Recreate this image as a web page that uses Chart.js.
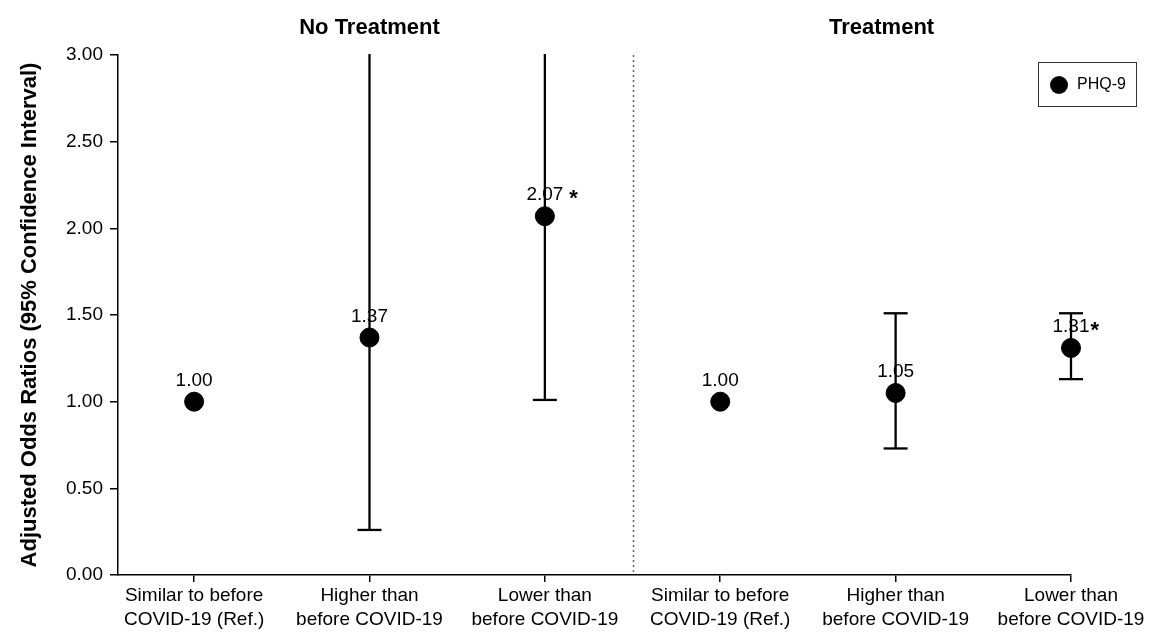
<!DOCTYPE html>
<html lang="en">
<head>
    <meta charset="UTF-8">
    <title>Adjusted Odds Ratios - PHQ-9</title>
    <style>
        html, body { margin: 0; padding: 0; background: #fff; }
        #wrap { width: 1150px; height: 635px; position: relative; }
    </style>
</head>
<body>
    <div id="wrap">
        <canvas id="chart" width="1150" height="635"></canvas>
    </div>

    <script src="https://cdn.jsdelivr.net/npm/chart.js@4/dist/chart.umd.min.js"></script>
    <script>
        // Datos
        const categoryPos = [1, 2, 3, 4, 5, 6];
        const categoryLabels = [
            ['Similar to before', 'COVID-19 (Ref.)'],
            ['Higher than', 'before COVID-19'],
            ['Lower than', 'before COVID-19'],
            ['Similar to before', 'COVID-19 (Ref.)'],
            ['Higher than', 'before COVID-19'],
            ['Lower than', 'before COVID-19']
        ];
        const oddsRatios = [1.00, 1.37, 2.07, 1.00, 1.05, 1.31];
        const ciLow = [null, 0.26, 1.01, null, 0.73, 1.13];
        const ciHigh = [null, 3.30, 3.30, null, 1.51, 1.51];
        const significant = [false, false, true, false, false, true];
        const groupTitles = ['No Treatment', 'Treatment'];
        const groupTitlePos = [2, 4.92];
        const dividerPos = 3.5;
        const yTicks = [0, 0.5, 1, 1.5, 2, 2.5, 3];
        const seriesName = 'PHQ-9';

        const FONT = '"Liberation Sans", Arial, sans-serif';

        // Barras de error, separador, titulos, etiquetas y leyenda
        const extras = {
            id: 'extras',
            beforeDatasetsDraw(chart) {
                const { ctx, chartArea: a, scales: { x, y } } = chart;
                ctx.save();
                // linea punteada
                ctx.strokeStyle = '#666';
                ctx.lineWidth = 1.5;
                ctx.setLineDash([2, 3]);
                const dx = Math.round(x.getPixelForValue(dividerPos)) + 0.5;
                ctx.beginPath();
                ctx.moveTo(dx, a.top);
                ctx.lineTo(dx, a.bottom);
                ctx.stroke();
                ctx.setLineDash([]);

                // intervalos (recortados arriba y abajo solamente)
                ctx.beginPath();
                ctx.rect(a.left, a.top - 1, a.right - a.left + 30, a.bottom - a.top + 2);
                ctx.clip();
                ctx.strokeStyle = '#000';
                ctx.lineWidth = 2.3;
                categoryPos.forEach((c, i) => {
                    if (ciLow[i] == null) return;
                    const px = x.getPixelForValue(c);
                    const lo = y.getPixelForValue(ciLow[i]);
                    const hi = y.getPixelForValue(ciHigh[i]);
                    ctx.beginPath();
                    ctx.moveTo(px, lo);
                    ctx.lineTo(px, hi);
                    ctx.stroke();
                    [ciLow[i], ciHigh[i]].forEach(v => {
                        if (v > y.max) return;
                        const py = y.getPixelForValue(v);
                        ctx.beginPath();
                        ctx.moveTo(px - 12, py);
                        ctx.lineTo(px + 12, py);
                        ctx.stroke();
                    });
                });
                ctx.restore();
            },
            afterDraw(chart) {
                const { ctx, scales: { x, y } } = chart;
                ctx.save();
                ctx.fillStyle = '#000';
                ctx.textBaseline = 'middle';

                // etiquetas de valor
                ctx.font = '19px ' + FONT;
                ctx.textAlign = 'center';
                categoryPos.forEach((c, i) => {
                    const px = x.getPixelForValue(c);
                    const py = y.getPixelForValue(oddsRatios[i]) - 21;
                    const txt = oddsRatios[i].toFixed(2);
                    ctx.fillText(txt, px, py);
                    if (significant[i]) {
                        const w = ctx.measureText(txt).width;
                        ctx.save();
                        ctx.font = 'bold 22px ' + FONT;
                        ctx.textAlign = 'left';
                        ctx.fillText('*', px + w / 2 + (i === 2 ? 6 : 1), py + 4);
                        ctx.restore();
                    }
                });

                // titulos de grupo
                ctx.font = 'bold 22px ' + FONT;
                groupTitles.forEach((t, i) => {
                    ctx.fillText(t, x.getPixelForValue(groupTitlePos[i]), 28);
                });

                // leyenda
                ctx.fillStyle = '#fff';
                ctx.strokeStyle = '#333';
                ctx.lineWidth = 1;
                ctx.fillRect(1038.5, 62.5, 98, 44);
                ctx.strokeRect(1038.5, 62.5, 98, 44);
                ctx.fillStyle = '#000';
                ctx.beginPath();
                ctx.arc(1059, 85, 9, 0, Math.PI * 2);
                ctx.fill();
                ctx.font = '16px ' + FONT;
                ctx.textAlign = 'left';
                ctx.fillText(seriesName, 1077, 85);
                ctx.restore();
            }
        };

        new Chart(document.getElementById('chart'), {
            type: 'scatter',
            data: {
                datasets: [{
                    label: seriesName,
                    data: categoryPos.map((c, i) => ({ x: c, y: oddsRatios[i] })),
                    backgroundColor: '#000',
                    borderColor: '#000',
                    pointRadius: 9.5,
                    pointHoverRadius: 9.5,
                    clip: false
                }]
            },
            options: {
                responsive: false,
                animation: false,
                devicePixelRatio: 1,
                layout: { padding: { top: 55, right: 79, left: 0, bottom: 0 } },
                plugins: {
                    legend: { display: false },
                    tooltip: { enabled: false }
                },
                scales: {
                    x: {
                        type: 'linear',
                        min: 0.566,
                        max: 6,
                        afterBuildTicks: axis => {
                            axis.ticks = categoryPos.map(v => ({ value: v }));
                        },
                        afterFit: scale => { scale.height = 60; },
                        ticks: {
                            autoSkip: false,
                            maxRotation: 0,
                            color: '#000',
                            font: { family: FONT, size: 19, lineHeight: 1.25 },
                            padding: 2,
                            callback: (v, i) => categoryLabels[i]
                        },
                        grid: {
                            drawOnChartArea: false,
                            color: '#000',
                            lineWidth: 1.5,
                            tickLength: 7
                        },
                        border: { color: '#000', width: 1.5 }
                    },
                    y: {
                        min: 0,
                        max: 3,
                        afterBuildTicks: axis => {
                            axis.ticks = yTicks.map(v => ({ value: v }));
                        },
                        afterFit: scale => { scale.width = 118; },
                        ticks: {
                            color: '#000',
                            font: { family: FONT, size: 19 },
                            padding: 7,
                            callback: v => v.toFixed(2)
                        },
                        grid: {
                            drawOnChartArea: false,
                            color: '#000',
                            lineWidth: 1.5,
                            tickLength: 8
                        },
                        border: { color: '#000', width: 1.5 },
                        title: {
                            display: true,
                            text: 'Adjusted Odds Ratios (95% Confidence Interval)',
                            color: '#000',
                            font: { family: FONT, size: 22, weight: 'bold' },
                            padding: { top: 17, bottom: 0 }
                        }
                    }
                }
            },
            plugins: [extras]
        });
    </script>
</body>
</html>
